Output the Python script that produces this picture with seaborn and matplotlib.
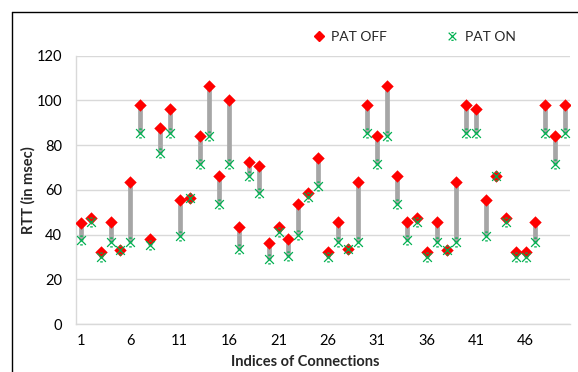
import matplotlib
matplotlib.use("Agg")
import matplotlib.pyplot as plt
from matplotlib.lines import Line2D
from matplotlib.path import Path
import seaborn as sns
import numpy as np

connections = list(range(1, 51))
pat_off = [45.3, 47.5, 32.1, 45.5, 33.1, 63.5, 97.8, 37.9, 87.8, 96.3,
           55.5, 56.2, 84.1, 106.6, 66.3, 100.0, 43.2, 72.3, 70.7, 36.4,
           43.4, 37.9, 53.5, 58.4, 74.1, 32.3, 45.5, 33.4, 63.5, 97.8,
           84.1, 106.6, 66.3, 45.5, 47.5, 32.1, 45.5, 33.1, 63.5, 97.8,
           96.3, 55.5, 66.3, 47.5, 32.1, 32.1, 45.5, 97.8, 84.1, 97.8]
pat_on = [37.6, 45.5, 30.1, 36.7, 33.1, 36.7, 85.3, 35.3, 76.3, 85.6,
          39.5, 56.2, 71.6, 84.1, 53.5, 71.6, 33.4, 66.2, 58.7, 29.2,
          41.3, 30.5, 39.7, 56.7, 61.7, 30.1, 36.7, 33.4, 36.7, 85.3,
          71.6, 84.1, 53.5, 37.4, 45.5, 30.1, 36.7, 33.1, 36.7, 85.3,
          85.6, 39.5, 66.3, 45.5, 30.1, 30.1, 36.7, 85.3, 71.6, 85.3]
x_ticks = [1, 6, 11, 16, 21, 26, 31, 36, 41, 46]
y_ticks = [0, 20, 40, 60, 80, 100, 120]

sns.set_style("white")
plt.rcParams['font.family'] = ['Lato', 'DejaVu Sans']

# x marker with short caps at top and bottom
cap = 0.3
star_x = Path([(-1, -1), (1, 1), (-1, 1), (1, -1),
               (-cap, 1), (cap, 1), (-cap, -1), (cap, -1)],
              [Path.MOVETO, Path.LINETO, Path.MOVETO, Path.LINETO,
               Path.MOVETO, Path.LINETO, Path.MOVETO, Path.LINETO])

fig = plt.figure(figsize=(5.78, 3.72), dpi=100)
ax = fig.add_axes([76/578, 1-324/372, (570-76)/578, (324-55.7)/372])

ax.vlines(connections, pat_on, pat_off, colors="#a6a6a6", linewidth=3.4, zorder=2)
sns.scatterplot(x=connections, y=pat_off, ax=ax, marker="D", color="#ff0000",
                s=40, linewidth=0, zorder=3)
sns.scatterplot(x=connections, y=pat_on, ax=ax, marker=star_x, color="#00b050",
                s=40, linewidth=0.9, edgecolor="#00b050", zorder=4)

ax.set_xlim(0.5, 50.5)
ax.set_ylim(0, 120)
ax.set_xticks(x_ticks)
ax.set_yticks(y_ticks)
ax.tick_params(axis="both", length=0, labelsize=10.5, colors="#000000")
ax.tick_params(axis="y", pad=10)
ax.tick_params(axis="x", pad=7)
ax.grid(axis="y", color="#d9d9d9", linewidth=1.0)
ax.set_axisbelow(True)
for side in ["top", "right"]:
    ax.spines[side].set_visible(False)
ax.spines["left"].set_color("#d9d9d9")
ax.spines["bottom"].set_color("#d9d9d9")
ax.spines["left"].set_linewidth(1.0)
ax.spines["bottom"].set_linewidth(1.0)

fig.text(305/578, 1-362/372, "Indices of Connections", fontsize=10.5, fontweight="bold",
         ha="center", va="center")
fig.text(28/578, 1-190/372, "RTT (in msec)", fontsize=10.5, fontweight="bold",
         ha="center", va="center", rotation=90)

handles = [Line2D([], [], marker="D", color="#ff0000", linestyle="none", markersize=5),
           Line2D([], [], marker=star_x, color="#00b050", markeredgecolor="#00b050",
                  linestyle="none", markersize=5.5, markeredgewidth=0.9)]
fig.legend(handles, ["PAT OFF", "PAT ON"], loc="center", bbox_to_anchor=(413/578, 1-37/372),
           ncol=2, frameon=False, fontsize=10, columnspacing=4.1, handletextpad=0.3,
           handlelength=1.2)

# outer frame (left and top edges)
fig.add_artist(Line2D([12/578, 12/578], [0, 1-12/372], transform=fig.transFigure,
                      color="#000000", linewidth=1.0))
fig.add_artist(Line2D([12/578, 1], [1-12/372, 1-12/372], transform=fig.transFigure,
                      color="#000000", linewidth=1.0))

fig.savefig("out.png", dpi=100)
